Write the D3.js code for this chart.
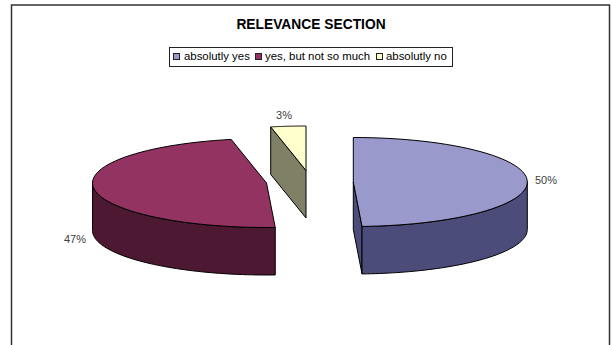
<!DOCTYPE html>
<html><head><meta charset="utf-8">
<script src="https://cdn.jsdelivr.net/npm/d3@7"></script>
<style>html,body{margin:0;padding:0;background:#fff}svg{display:block}text{font-family:"Liberation Sans",Arial,sans-serif}</style>
</head><body><svg id="c" width="612" height="345"></svg>
<script>
const title = "RELEVANCE SECTION";
const categories = ["absolutly yes","yes, but not so much","absolutly no"];
const values = [49.2,47.55,3.25];
const labels = ["50%","47%","3%"];
const topColors = ["#9999cc","#933361","#ffffcc"];
const sideColors = ["#4c4c7a","#4d1932","#808066"];
const apexX = [353.3,266.5,306];
const apexY = [182,183,170.5];
const labelPos = [[546,184],[75,243],[284,119]];

const svg = d3.select("#c");
const rx = 174, ry = 44.5, depth = 47.5;
svg.append("rect").attr("x",11.5).attr("y",5).attr("width",598).attr("height",345).attr("fill","#fff").attr("stroke","#333").attr("stroke-width",1.5);
svg.append("text").attr("x",311).attr("y",28.7).attr("text-anchor","middle").attr("font-size",13.8).attr("font-weight","bold").attr("fill","#000").text(title);

const arcs = d3.pie().sort(null).value(d=>d)(values);
const pt = (i,a)=>[apexX[i]+rx*Math.sin(a), apexY[i]-ry*Math.cos(a)];
const rim = (i,a0,a1)=>d3.range(0,61).map(k=>pt(i,a0+(a1-a0)*k/60));
const line = d3.line();
const stroke = p=>p.attr("stroke","#000").attr("stroke-width",1).attr("stroke-linejoin","round");
const shift = (p,dy)=>p.map(d=>[d[0],d[1]+dy]);
const g = svg.append("g");

arcs.forEach((a,i)=>{
  const C=[apexX[i],apexY[i]];
  const P0=pt(i,a.startAngle), P1=pt(i,a.endAngle);
  if(i===0){
    const q=[C,P1,shift([P1],depth)[0],shift([C],depth)[0]];
    g.append("path").attr("d",line(q)+"Z").attr("fill",sideColors[i]).call(stroke);
  }
  if(i===2){
    const q=[C,P0,shift([P0],depth)[0],shift([C],depth)[0]];
    g.append("path").attr("d",line(q)+"Z").attr("fill",sideColors[i]).call(stroke);
  }
  const fa0=Math.max(a.startAngle,Math.PI/2), fa1=Math.min(a.endAngle,Math.PI*1.5);
  if(fa1>fa0){
    const r=rim(i,fa0,fa1);
    const wall=r.concat(shift(r,depth).reverse());
    g.append("path").attr("d",line(wall)+"Z").attr("fill",sideColors[i]).call(stroke);
  }
  const topPoly=[C].concat(rim(i,a.startAngle,a.endAngle));
  g.append("path").attr("d",line(topPoly)+"Z").attr("fill",topColors[i]).call(stroke);
  svg.append("text").attr("x",labelPos[i][0]).attr("y",labelPos[i][1]).attr("text-anchor","middle").attr("font-size",11).attr("fill","#404040").text(labels[i]);
});

const lg = svg.append("g");
lg.append("rect").attr("x",169.5).attr("y",47.5).attr("width",283).attr("height",19).attr("fill","#fff").attr("stroke","#222").attr("stroke-width",1);
const sw=[174,256,377], tx=[184,265,386];
categories.forEach((c,i)=>{
  lg.append("rect").attr("x",sw[i]-.5).attr("y",53.5).attr("width",6).attr("height",6).attr("fill",topColors[i]).attr("stroke","#222").attr("stroke-width",1);
  lg.append("text").attr("x",tx[i]).attr("y",59.5).attr("font-size",11.4).attr("fill","#000").text(c);
});
</script></body></html>
